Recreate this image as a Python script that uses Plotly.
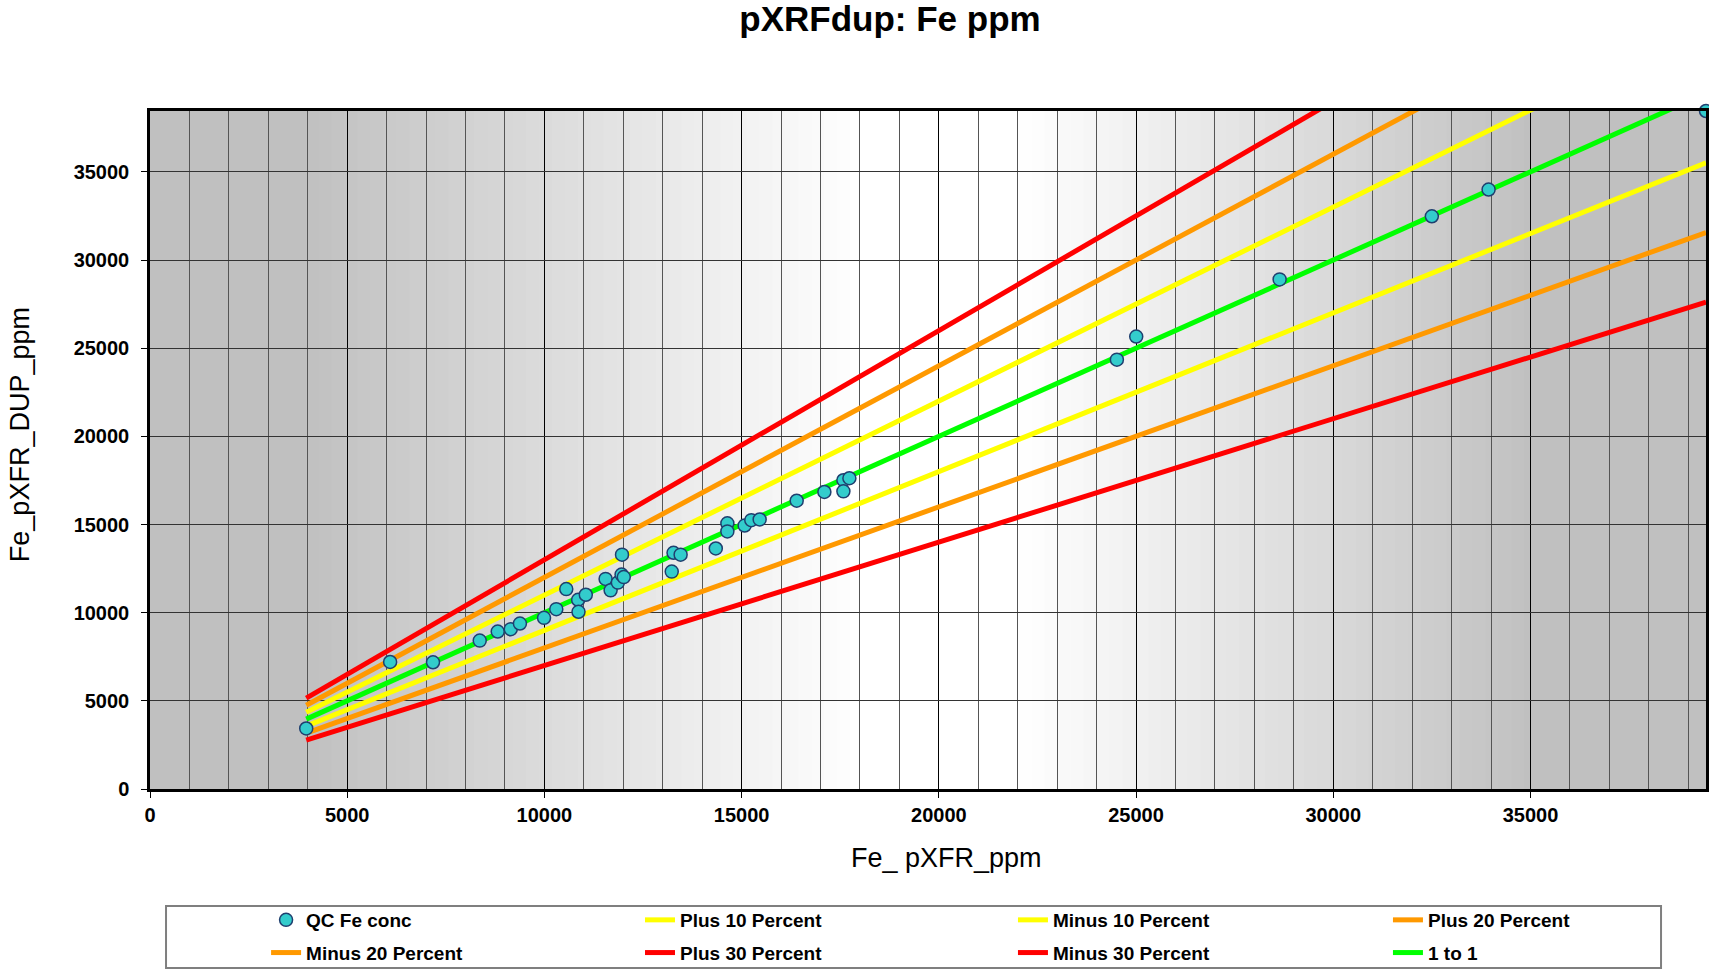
import plotly.graph_objects as go

# QC duplicate pairs: original pXRF reading vs duplicate reading (Fe, ppm)
fe_pxrf = [3961, 6088, 7175, 8360, 8816, 9146, 9379, 9990, 10301, 10554,
           10855, 10864, 11049, 11551, 11678, 11862, 11956, 12012, 11967, 13273,
           13228, 13453, 14345, 14638, 14638, 15076, 15245, 15457, 16396, 17098,
           17580, 17580, 17732, 24514, 25004, 28640, 32499, 33938, 39450]
fe_dup = [3432, 7205, 7186, 8418, 8930, 9063, 9385, 9708, 10200, 11338,
          10731, 10049, 11016, 11914, 11268, 11705, 12160, 12018, 13290, 13395,
          12331, 13290, 13641, 15065, 14610, 14943, 15247, 15285, 16350, 16844,
          17510, 16882, 17624, 24349, 25659, 28898, 32480, 33997, 38450]

# Reference envelopes: name, multiplier of the 1:1 line, colour, legend column
ref_names = ["Plus 10 Percent", "Minus 10 Percent", "Plus 20 Percent", "Minus 20 Percent",
             "Plus 30 Percent", "Minus 30 Percent", "1 to 1"]
ref_factors = [1.1, 0.9, 1.2, 0.8, 1.3, 0.7, 1.0]
ref_colors = ["#FFFF00", "#FFFF00", "#FF9900", "#FF9900", "#FF0000", "#FF0000", "#00FF00"]
ref_legend = ["legend2", "legend3", "legend4", "legend", "legend2", "legend3", "legend4"]

x_ticks = [0, 5000, 10000, 15000, 20000, 25000, 30000, 35000]
y_ticks = [0, 5000, 10000, 15000, 20000, 25000, 30000, 35000]

x_max = max(fe_pxrf)
y_max = max(fe_dup)
x_lo, x_hi = min(fe_pxrf), max(fe_pxrf)

FONT = "Liberation Sans, Arial, sans-serif"

fig = go.Figure()

# envelope lines, drawn first so the QC points sit on top
for rank, (name, k, col, lg) in enumerate(zip(ref_names, ref_factors, ref_colors, ref_legend), start=2):
    fig.add_trace(go.Scatter(
        x=[x_lo, x_hi], y=[k * x_lo, k * x_hi],
        mode="lines", name=name, legend=lg, legendgroup=name, legendrank=rank,
        line=dict(color=col, width=5),
        hoverinfo="skip",
    ))

fig.add_trace(go.Scatter(
    x=fe_pxrf, y=fe_dup, mode="markers", name="QC Fe conc",
    legend="legend", legendgroup="qc", legendrank=1,
    cliponaxis=False,
    marker=dict(size=13, color="#33CCCC", line=dict(color="#1F3F6F", width=1.5)),
))

# grey-white-grey banded backdrop across the plotting area
def shade(f):
    lo = 192
    if f < 0.10:
        g = lo
    elif f < 0.456:
        g = lo + (255 - lo) * (f - 0.10) / 0.356
    elif f < 0.558:
        g = 255
    elif f < 0.89:
        g = 255 - (255 - lo) * (f - 0.558) / 0.332
    else:
        g = lo
    g = int(round(g))
    return f"rgb({g},{g},{g})"

shapes = []
n_bands = 120
for i in range(n_bands):
    f0, f1 = i / n_bands, (i + 1) / n_bands
    shapes.append(dict(type="rect", xref="x domain", yref="y domain",
                       x0=f0, x1=f1 + 0.002, y0=0, y1=1, layer="below",
                       line=dict(width=0), fillcolor=shade((f0 + f1) / 2)))

# legend frame
shapes.append(dict(type="rect", xref="paper", yref="paper",
                   x0=0.0103, x1=0.9711, y0=-0.264, y1=-0.1726,
                   line=dict(color="#7F7F7F", width=2), fillcolor="rgba(0,0,0,0)"))

legend_font = dict(family=FONT, size=19, color="black", weight="bold")
legend_y = -0.1652
legend_common = dict(orientation="v", y=legend_y, yanchor="top", xanchor="left",
                     bgcolor="rgba(0,0,0,0)", borderwidth=0, tracegroupgap=5,
                     font=legend_font)

fig.update_layout(
    width=1709, height=970,
    margin=dict(l=150, r=3, t=111, b=181, autoexpand=False),
    paper_bgcolor="white", plot_bgcolor="#C0C0C0",
    shapes=shapes,
    title=dict(text="pXRFdup: Fe ppm", x=890 / 1709, xanchor="center",
               y=0.981, yanchor="middle",
               font=dict(family=FONT, size=35, color="black", weight="bold")),
    showlegend=True,
    legend=dict(x=0.0746, **legend_common),
    legend2=dict(x=0.3149, **legend_common),
    legend3=dict(x=0.5546, **legend_common),
    legend4=dict(x=0.7956, **legend_common),
    annotations=[
        dict(text="Fe_ pXFR_ppm", xref="paper", yref="paper", x=0.512, y=-0.1018,
             xanchor="center", yanchor="middle", showarrow=False,
             font=dict(family=FONT, size=27, color="black")),
        dict(text="Fe_pXFR_DUP_ppm", xref="paper", yref="paper", x=-0.0835, y=0.522,
             xanchor="center", yanchor="middle", showarrow=False, textangle=-90,
             font=dict(family=FONT, size=27, color="black")),
    ],
)

fig.update_xaxes(
    range=[0, x_max], tickvals=x_ticks, ticktext=[str(v) for v in x_ticks],
    ticks="outside", ticklen=6, tickcolor="black", tickwidth=1,
    showline=True, linecolor="black", linewidth=2.5, mirror=True,
    showgrid=True, gridcolor="black", gridwidth=1, zeroline=False,
    minor=dict(dtick=1000, showgrid=True, gridcolor="#555555", gridwidth=1, ticks=""),
    tickfont=dict(family=FONT, size=20, color="black", weight="bold"),
)
fig.update_yaxes(
    range=[0, y_max], tickvals=y_ticks, ticktext=[str(v) for v in y_ticks],
    ticks="outside", ticklen=6, tickcolor="black", tickwidth=1, ticklabelstandoff=8,
    showline=True, linecolor="black", linewidth=2.5, mirror=True,
    showgrid=True, gridcolor="#333333", gridwidth=1, zeroline=False,
    tickfont=dict(family=FONT, size=20, color="black", weight="bold"),
)

fig.write_html("out.html")
